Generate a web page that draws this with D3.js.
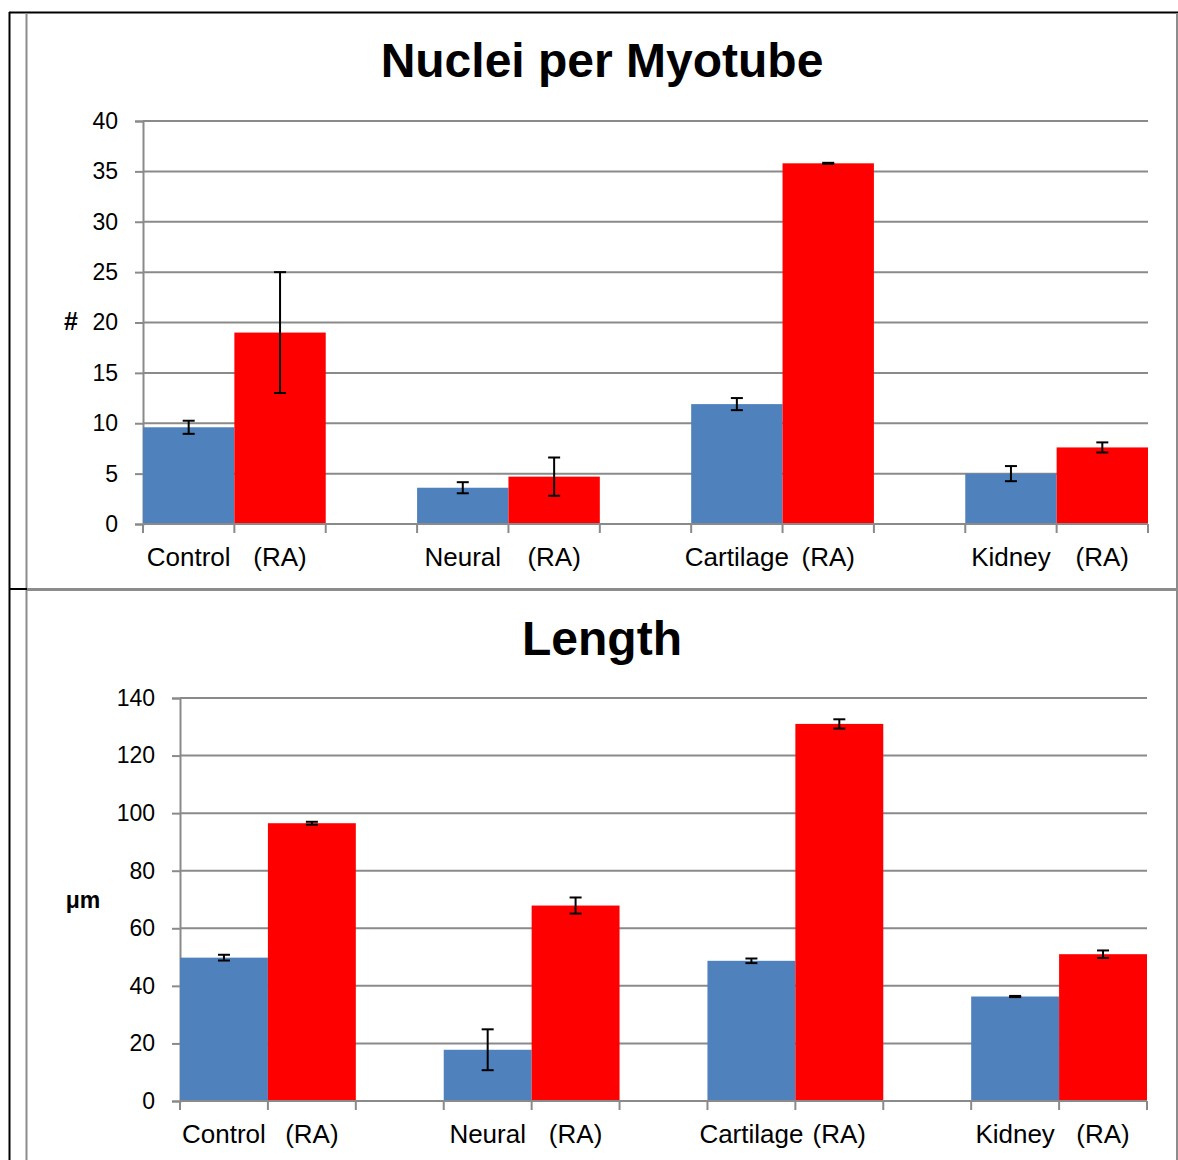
<!DOCTYPE html>
<html>
<head>
<meta charset="utf-8">
<script src="https://cdn.jsdelivr.net/npm/d3@7"></script>
<style>
  body { margin: 0; background: #fff; }
  text { font-family: "Liberation Sans", Arial, sans-serif; }
</style>
</head>
<body>
<div id="chart"></div>
<script>
// categories on the x axis (blank slot between groups)
var slotLabels = ["Control", "(RA)", "", "Neural", "(RA)", "", "Cartilage", "(RA)", "", "Kidney", "(RA)"];
var groups = ["Control", "Neural", "Cartilage", "Kidney"];

// nuclei per myotube
var nucleiPlain = [9.6, 3.6, 11.9, 5.0];
var nucleiPlainErr = [0.65, 0.55, 0.6, 0.75];
var nucleiRA = [19.0, 4.7, 35.8, 7.6];
var nucleiRAErr = [6.0, 1.9, 0.05, 0.5];
var nucleiTicks = [0, 5, 10, 15, 20, 25, 30, 35, 40];

// length in um
var lengthPlain = [49.8, 17.8, 48.7, 36.3];
var lengthPlainErr = [1.0, 7.1, 0.8, 0.2];
var lengthRA = [96.5, 67.9, 131.0, 51.0];
var lengthRAErr = [0.5, 2.8, 1.6, 1.3];
var lengthTicks = [0, 20, 40, 60, 80, 100, 120, 140];

var width = 1178, height = 1160;
var blue = "#4f81bd", red = "#ff0000", grid = "#8a8a8a";

var svg = d3.select("#chart")
    .append("svg")
    .attr("width", width)
    .attr("height", height);

// table frame around the two charts
var frame = svg.append("g");
frame.append("line").attr("x1", 9).attr("x2", 1178).attr("y1", 12.5).attr("y2", 12.5)
    .attr("stroke", "#000").attr("stroke-width", 2);
frame.append("line").attr("x1", 9.5).attr("x2", 9.5).attr("y1", 12).attr("y2", height)
    .attr("stroke", "#000").attr("stroke-width", 2);
frame.append("line").attr("x1", 26.5).attr("x2", 26.5).attr("y1", 13).attr("y2", height)
    .attr("stroke", "#8c8c8c").attr("stroke-width", 2);
frame.append("line").attr("x1", 1177).attr("x2", 1177).attr("y1", 13).attr("y2", height)
    .attr("stroke", "#8c8c8c").attr("stroke-width", 2);
frame.append("line").attr("x1", 9).attr("x2", 27).attr("y1", 589).attr("y2", 589)
    .attr("stroke", "#000").attr("stroke-width", 2);
frame.append("line").attr("x1", 27).attr("x2", 1177).attr("y1", 589.5).attr("y2", 589.5)
    .attr("stroke", "#8c8c8c").attr("stroke-width", 3);

function drawChart(cfg) {
    var g = svg.append("g");

    var x = d3.scaleBand()
        .domain(d3.range(slotLabels.length))
        .range([cfg.left, cfg.right])
        .padding(0);

    var y = d3.scaleLinear()
        .domain([0, d3.max(cfg.ticks)])
        .range([cfg.bottom, cfg.top]);

    // title
    g.append("text")
        .attr("x", 602)
        .attr("y", cfg.titleY)
        .attr("text-anchor", "middle")
        .attr("font-size", 48)
        .attr("font-weight", "bold")
        .text(cfg.title);

    // gridlines
    g.append("g")
        .selectAll("line")
        .data(cfg.ticks)
        .enter()
        .append("line")
        .attr("x1", cfg.left)
        .attr("x2", cfg.right)
        .attr("y1", function(d) { return y(d); })
        .attr("y2", function(d) { return y(d); })
        .attr("stroke", grid)
        .attr("stroke-width", 2);

    // y axis
    var yAxis = g.append("g")
        .attr("transform", "translate(" + cfg.left + ",0)")
        .call(d3.axisLeft(y).tickValues(cfg.ticks).tickSize(8).tickPadding(17));
    yAxis.select(".domain").attr("stroke", grid).attr("stroke-width", 2);
    yAxis.selectAll(".tick line").attr("stroke", grid).attr("stroke-width", 2);
    yAxis.selectAll(".tick text")
        .attr("font-size", 23)
        .attr("font-family", "Liberation Sans, Arial, sans-serif")
        .attr("fill", "#000");

    // y label
    g.append("text")
        .attr("x", cfg.yLabelX)
        .attr("y", cfg.yLabelY)
        .attr("text-anchor", "middle")
        .attr("dominant-baseline", "middle")
        .attr("font-size", cfg.yLabelSize)
        .attr("font-weight", "bold")
        .text(cfg.yLabel);

    // bars: plain in slot 3i, RA in slot 3i+1
    var bars = [];
    groups.forEach(function(name, i) {
        bars.push({slot: 3 * i, value: cfg.plain[i], err: cfg.plainErr[i], color: blue});
        bars.push({slot: 3 * i + 1, value: cfg.ra[i], err: cfg.raErr[i], color: red});
    });

    g.append("g")
        .selectAll("rect")
        .data(bars)
        .enter()
        .append("rect")
        .attr("x", function(d) { return x(d.slot); })
        .attr("width", x.bandwidth())
        .attr("y", function(d) { return y(d.value); })
        .attr("height", function(d) { return y(0) - y(d.value); })
        .attr("fill", function(d) { return d.color; });

    // x axis line + tick marks at every band edge
    g.append("line")
        .attr("x1", cfg.left).attr("x2", cfg.right)
        .attr("y1", y(0)).attr("y2", y(0))
        .attr("stroke", grid).attr("stroke-width", 2);

    var edges = d3.range(slotLabels.length + 1).map(function(i) {
        return i < slotLabels.length ? x(i) : cfg.right;
    });
    g.append("g")
        .selectAll("line")
        .data(edges)
        .enter()
        .append("line")
        .attr("x1", function(d) { return d; })
        .attr("x2", function(d) { return d; })
        .attr("y1", y(0))
        .attr("y2", y(0) + 9)
        .attr("stroke", grid)
        .attr("stroke-width", 2);

    // error bars
    var eb = g.append("g")
        .selectAll("g")
        .data(bars)
        .enter()
        .append("g")
        .attr("stroke", "#000")
        .attr("stroke-width", 2);
    eb.append("line")
        .attr("x1", function(d) { return x(d.slot) + x.bandwidth() / 2; })
        .attr("x2", function(d) { return x(d.slot) + x.bandwidth() / 2; })
        .attr("y1", function(d) { return y(d.value + d.err); })
        .attr("y2", function(d) { return y(d.value - d.err); });
    eb.append("line")
        .attr("x1", function(d) { return x(d.slot) + x.bandwidth() / 2 - 6; })
        .attr("x2", function(d) { return x(d.slot) + x.bandwidth() / 2 + 6; })
        .attr("y1", function(d) { return y(d.value + d.err); })
        .attr("y2", function(d) { return y(d.value + d.err); });
    eb.append("line")
        .attr("x1", function(d) { return x(d.slot) + x.bandwidth() / 2 - 6; })
        .attr("x2", function(d) { return x(d.slot) + x.bandwidth() / 2 + 6; })
        .attr("y1", function(d) { return y(d.value - d.err); })
        .attr("y2", function(d) { return y(d.value - d.err); });

    // category labels
    g.append("g")
        .selectAll("text")
        .data(slotLabels.map(function(l, i) { return {label: l, slot: i}; })
            .filter(function(d) { return d.label !== ""; }))
        .enter()
        .append("text")
        .attr("x", function(d) { return x(d.slot) + x.bandwidth() / 2; })
        .attr("y", y(0) + 42)
        .attr("text-anchor", "middle")
        .attr("font-size", 26)
        .text(function(d) { return d.label; });
}

drawChart({
    title: "Nuclei per Myotube", titleY: 77,
    left: 143, right: 1148, top: 121, bottom: 524,
    ticks: nucleiTicks,
    plain: nucleiPlain, plainErr: nucleiPlainErr,
    ra: nucleiRA, raErr: nucleiRAErr,
    yLabel: "#", yLabelX: 71, yLabelY: 323, yLabelSize: 25
});

drawChart({
    title: "Length", titleY: 655,
    left: 180, right: 1147, top: 698, bottom: 1101,
    ticks: lengthTicks,
    plain: lengthPlain, plainErr: lengthPlainErr,
    ra: lengthRA, raErr: lengthRAErr,
    yLabel: "μm", yLabelX: 83, yLabelY: 902, yLabelSize: 23
});
</script>
</body>
</html>
